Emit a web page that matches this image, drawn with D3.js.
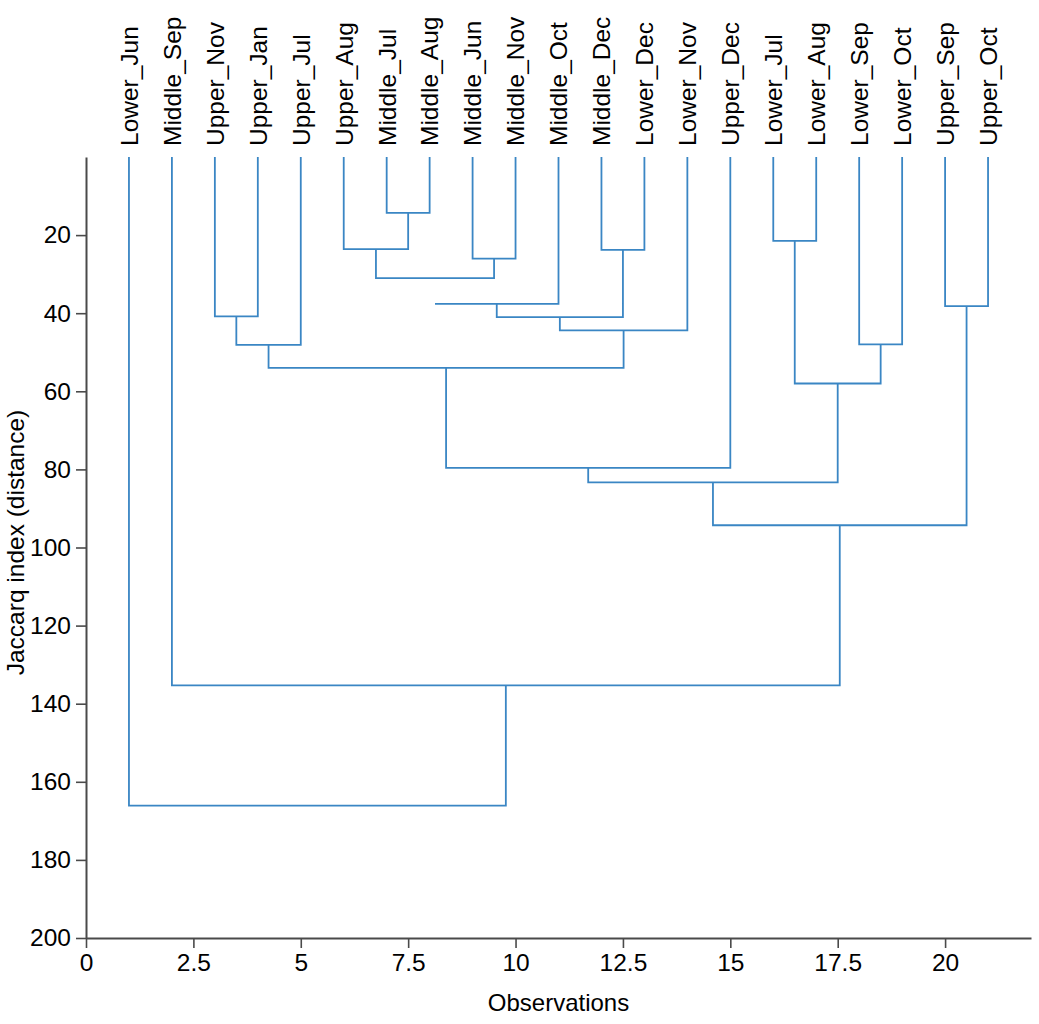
<!DOCTYPE html>
<html>
<head>
<meta charset="utf-8">
<script src="https://cdn.jsdelivr.net/npm/d3@7"></script>
<style>
  body { margin: 0; background: #fff; }
  text { font-family: "Liberation Sans", Arial, sans-serif; fill: #000; }
</style>
</head>
<body>
<svg id="canvas"></svg>
<script>
//--leaf labels, in the order they sit along the x axis (observation 1..21)
const leaves = ["Lower_Jun", "Middle_Sep", "Upper_Nov", "Upper_Jan", "Upper_Jul", "Upper_Aug",
  "Middle_Jul", "Middle_Aug", "Middle_Jun", "Middle_Nov", "Middle_Oct", "Middle_Dec",
  "Lower_Dec", "Lower_Nov", "Upper_Dec", "Lower_Jul", "Lower_Aug", "Lower_Sep",
  "Lower_Oct", "Upper_Sep", "Upper_Oct"];

//--merges: [left child, right child, distance]; leaves are 0..20, merge k gets id 21+k
const merges = [
  [6, 7, 14.3],
  [15, 16, 21.5],
  [5, 21, 23.6],
  [11, 12, 23.8],
  [8, 9, 26.0],
  [23, 25, 31.0],
  [26, 10, 37.6],
  [19, 20, 38.2],
  [2, 3, 40.8],
  [27, 24, 41.0],
  [30, 13, 44.4],
  [17, 18, 48.0],
  [29, 4, 48.1],
  [33, 31, 54.0],
  [22, 32, 58.0],
  [34, 14, 79.6],
  [36, 35, 83.3],
  [37, 28, 94.3],
  [1, 38, 135.3],
  [0, 39, 166.1]
];

//--the original plot lacks the left riser of this merge (id 27)
const noLeftRiser = [27];

//--ticks
const xTicks = [0, 2.5, 5, 7.5, 10, 12.5, 15, 17.5, 20];
const yTicks = [20, 40, 60, 80, 100, 120, 140, 160, 180, 200];
//--

//--canvas
let width = 1039;
let height = 1024;
let canvas = d3.select("#canvas").attr("width", width).attr("height", height);

let x = d3.scaleLinear().domain([0, 22]).range([86, 1031]);
let y = d3.scaleLinear().domain([0, 200]).range([157, 938]);
const lineColor = "#3a86c4";
//--

//--node positions: leaves at observation 1..n, merges at the middle of their children
let nodes = leaves.map((d, i) => ({ pos: i + 1, h: 0 }));
merges.forEach(m => {
    let a = nodes[m[0]], b = nodes[m[1]];
    nodes.push({ pos: (a.pos + b.pos) / 2, h: m[2] });
});

let links = canvas.append("g").attr("class", "links");
links.selectAll("path")
    .data(merges)
    .enter()
    .append("path")
    .attr("d", (m, k) => {
        let a = nodes[m[0]], b = nodes[m[1]];
        let ym = y(m[2]);
        let start = noLeftRiser.includes(leaves.length + k)
            ? `M${x(a.pos)},${ym}`
            : `M${x(a.pos)},${y(a.h)}V${ym}`;
        return start + `H${x(b.pos)}V${y(b.h)}`;
    })
    .attr("fill", "none")
    .attr("stroke", lineColor)
    .attr("stroke-width", 1.8);

//--leaf labels
canvas.append("g")
    .selectAll("text")
    .data(leaves)
    .enter()
    .append("text")
    .attr("transform", (d, i) => `translate(${x(i + 1)},146) rotate(-90)`)
    .attr("dy", "0.36em")
    .attr("text-anchor", "start")
    .attr("font-size", 24.5)
    .text(d => d);

//--axes
let xAxis = d3.axisBottom(x).tickValues(xTicks).tickSize(10).tickSizeOuter(0).tickPadding(6)
    .tickFormat(d3.format("~g"));
let yAxis = d3.axisLeft(y).tickValues(yTicks).tickSize(10).tickSizeOuter(0).tickPadding(5);

let gx = canvas.append("g").attr("transform", `translate(0,${y(200)})`).call(xAxis);
let gy = canvas.append("g").attr("transform", `translate(${x(0)},0)`).call(yAxis);

[gx, gy].forEach(g => {
    g.select(".domain").attr("stroke", "#4a4a4a").attr("stroke-width", 2);
    g.selectAll(".tick line").attr("stroke", "#4a4a4a").attr("stroke-width", 1.6);
    g.selectAll(".tick text").attr("font-size", 24.5)
        .attr("font-family", "Liberation Sans, Arial, sans-serif").attr("fill", "#000");
});

//--axis titles
canvas.append("text")
    .attr("x", (x.range()[0] + x.range()[1]) / 2)
    .attr("y", 1011)
    .attr("text-anchor", "middle")
    .attr("font-size", 24)
    .text("Observations");

canvas.append("text")
    .attr("transform", `translate(24,${(y.range()[0] + y.range()[1]) / 2 - 5}) rotate(-90)`)
    .attr("text-anchor", "middle")
    .attr("font-size", 24.5)
    .text("Jaccarq index (distance)");
</script>
</body>
</html>
